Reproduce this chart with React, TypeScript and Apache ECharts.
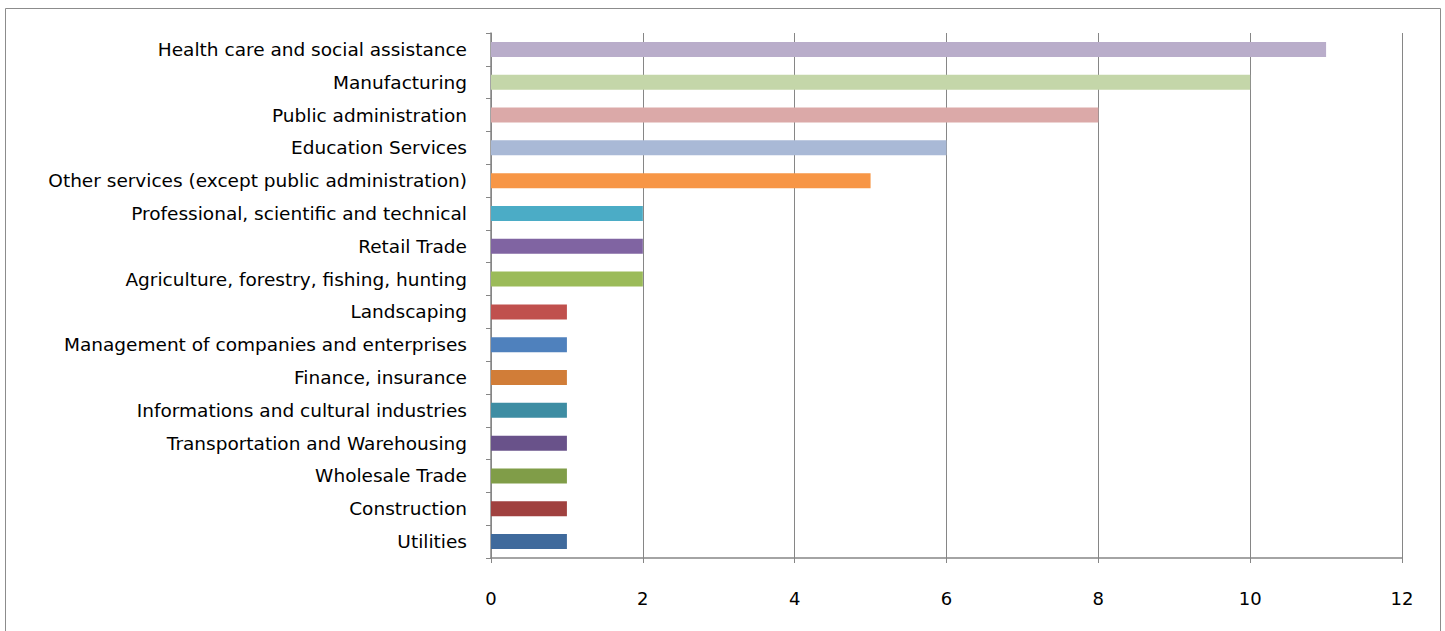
import React, { useEffect, useRef } from "react";
import * as echarts from "echarts";

const categories = [
  "Health care and social assistance",
  "Manufacturing",
  "Public administration",
  "Education Services",
  "Other services (except public administration)",
  "Professional, scientific and technical",
  "Retail Trade",
  "Agriculture, forestry, fishing, hunting",
  "Landscaping",
  "Management of companies and enterprises",
  "Finance, insurance",
  "Informations and cultural industries",
  "Transportation and Warehousing",
  "Wholesale Trade",
  "Construction",
  "Utilities",
];

const values = [11, 10, 8, 6, 5, 2, 2, 2, 1, 1, 1, 1, 1, 1, 1, 1];

const barColors = [
  "#B9ADCA",
  "#C4D6A9",
  "#DBA9A8",
  "#A9B9D6",
  "#F79646",
  "#4BACC6",
  "#8064A2",
  "#9BBB59",
  "#C0504D",
  "#4F81BD",
  "#D17D38",
  "#3E8DA3",
  "#69528A",
  "#809D48",
  "#A0413F",
  "#3F6A9C",
];

const xTicks = { min: 0, max: 12, interval: 2 };

export default function App() {
  const ref = useRef<HTMLDivElement>(null);
  useEffect(() => {
    document.body.style.margin = "0";
    if (!ref.current) return;
    const chart = echarts.init(ref.current, undefined, { renderer: "svg" });
    const axisColor = "#868686";
    const font = "DejaVu Sans";
    chart.setOption({
      animation: false,
      backgroundColor: "#ffffff",
      textStyle: { fontFamily: font, color: "#000" },
      graphic: [
        {
          type: "rect",
          shape: { x: 5.5, y: 8.5, width: 1435, height: 630 },
          style: { fill: "none", stroke: "#8c8c8c", lineWidth: 1 },
          silent: true,
        },
      ],
      grid: { left: 491, right: 43, top: 33, bottom: 73, containLabel: false },
      xAxis: {
        type: "value",
        min: xTicks.min,
        max: xTicks.max,
        interval: xTicks.interval,
        axisLine: { show: true, lineStyle: { color: axisColor, width: 1.5 } },
        axisTick: { show: true, length: 5, lineStyle: { color: axisColor } },
        splitLine: { show: true, lineStyle: { color: axisColor, width: 1 } },
        axisLabel: { fontSize: 18, color: "#000", margin: 31, fontFamily: font },
      },
      yAxis: {
        type: "category",
        inverse: true,
        data: categories,
        axisLine: { show: true, lineStyle: { color: axisColor, width: 1.5 } },
        axisTick: { show: true, length: 5, alignWithLabel: false, lineStyle: { color: axisColor } },
        axisLabel: { fontSize: 18.5, color: "#000", margin: 24, fontFamily: font },
      },
      series: [
        {
          type: "bar",
          data: values.map((v, i) => ({ value: v, itemStyle: { color: barColors[i] } })),
          barWidth: 15,
        },
      ],
    });
    return () => chart.dispose();
  }, []);
  return <div ref={ref} style={{ width: 1445, height: 631 }} />;
}
